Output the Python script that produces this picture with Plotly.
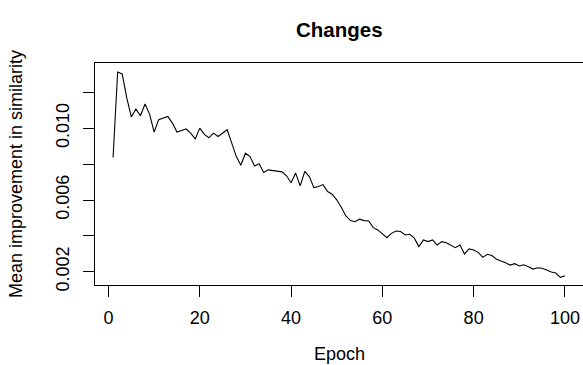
import plotly.graph_objects as go

epochs = list(range(1, 101))
improvement = [
    0.00837, 0.01314, 0.01303, 0.01169, 0.01063, 0.01107, 0.01070, 0.01135, 0.01079, 0.00979,
    0.01048, 0.01057, 0.01066, 0.01029, 0.00979, 0.00988, 0.00996, 0.00973, 0.00941, 0.01001,
    0.00966, 0.00947, 0.00973, 0.00954, 0.00971, 0.00992, 0.00917, 0.00842, 0.00794, 0.00861,
    0.00842, 0.00790, 0.00802, 0.00753, 0.00768, 0.00764, 0.00759, 0.00757, 0.00735, 0.00696,
    0.00750, 0.00679, 0.00759, 0.00731, 0.00669, 0.00675, 0.00686, 0.00647, 0.00632, 0.00601,
    0.00560, 0.00511, 0.00485, 0.00479, 0.00493, 0.00485, 0.00483, 0.00446, 0.00433, 0.00409,
    0.00390, 0.00414, 0.00427, 0.00424, 0.00405, 0.00409, 0.00387, 0.00340, 0.00377, 0.00368,
    0.00377, 0.00349, 0.00368, 0.00362, 0.00349, 0.00334, 0.00349, 0.00299, 0.00327, 0.00321,
    0.00308, 0.00280, 0.00297, 0.00290, 0.00269, 0.00260, 0.00250, 0.00237, 0.00245, 0.00232,
    0.00239, 0.00228, 0.00215, 0.00222, 0.00219, 0.00210, 0.00198, 0.00193, 0.00169, 0.00178,
]

x_ticks = [0, 20, 40, 60, 80, 100]
x_ticktext = ["0", "20", "40", "60", "80", "100"]
y_ticks = [0.002, 0.004, 0.006, 0.008, 0.010, 0.012]
y_ticktext = ["0.002", "", "0.006", "", "0.010", ""]

title_text = "Changes"
x_title = "Epoch"
y_title = "Mean improvement in similarity"

FONT = "Liberation Sans, Arial, Helvetica, sans-serif"
FS = 18

W, H = 583, 365
L, T, B, R = 95, 63, 80, 0
PW = W - L - R
PH = H - T - B

fig = go.Figure()
fig.add_trace(go.Scatter(
    x=epochs, y=improvement, mode="lines",
    line=dict(color="black", width=1.1),
    showlegend=False, hoverinfo="skip",
))

fig.update_layout(
    width=W, height=H,
    margin=dict(l=L, r=R, t=T, b=B, pad=0),
    paper_bgcolor="white", plot_bgcolor="white",
    font=dict(family=FONT, size=FS, color="black"),
    xaxis=dict(
        range=[-2.96, 103.96], showgrid=False, zeroline=False,
        showline=True, linecolor="black", linewidth=1, mirror=True,
        ticks="outside", ticklen=11, tickcolor="black", tickwidth=1,
        tickvals=x_ticks, ticktext=x_ticktext,
        tickfont=dict(family=FONT, size=FS, color="black"),
        ticklabelstandoff=5,
    ),
    yaxis=dict(
        range=[0.00126, 0.01364], showgrid=False, zeroline=False,
        showline=True, linecolor="black", linewidth=1, mirror=False,
        ticks="outside", ticklen=11, tickcolor="black", tickwidth=1,
        tickvals=y_ticks, ticktext=y_ticktext, tickangle=-90,
        tickfont=dict(family=FONT, size=FS, color="black"),
        ticklabelstandoff=7,
    ),
    annotations=[
        dict(text="<b>" + title_text + "</b>", xref="paper", yref="paper",
             x=0.5, y=(285 - 30) / PH, xanchor="center", yanchor="middle",
             showarrow=False, font=dict(family=FONT, size=20.5, color="black")),
        dict(text=x_title, xref="paper", yref="paper",
             x=0.5, y=(285 - 354) / PH, xanchor="center", yanchor="middle",
             showarrow=False, font=dict(family=FONT, size=FS, color="black")),
        dict(text=y_title, xref="paper", yref="paper", textangle=-90,
             x=(16 - 95) / PW, y=0.5, xanchor="center", yanchor="middle",
             showarrow=False, font=dict(family=FONT, size=FS, color="black")),
    ],
)

page_css = (
    "document.documentElement.style.margin='0';"
    "document.documentElement.style.overflow='hidden';"
    "document.body.style.margin='0';"
    "document.body.style.overflow='hidden';"
)

fig.write_html("out.html", post_script=page_css,
               config={"displayModeBar": False, "staticPlot": True})
